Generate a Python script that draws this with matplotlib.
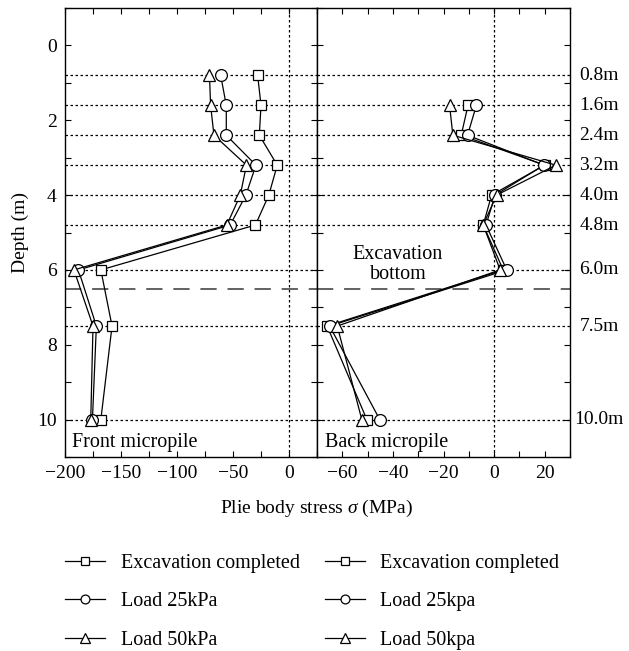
import matplotlib
matplotlib.use("Agg")
import matplotlib.pyplot as plt
from matplotlib.ticker import MultipleLocator
import matplotlib.transforms as mtransforms

# ---------------- data ----------------
depth_front = [0.8, 1.6, 2.4, 3.2, 4.0, 4.8, 6.0, 7.5, 10.0]
front_excav = [-28, -25, -26.5, -10.5, -18, -30, -168, -158, -168]
front_25 = [-61, -56, -56, -29.5, -38.5, -52.5, -188, -172, -175.5]
front_50 = [-71, -70, -67, -38, -43.5, -55.5, -192, -175, -177]

depth_back = [1.6, 2.4, 3.2, 4.0, 4.8, 6.0, 7.5, 10.0]
back_excav = [-10.3, -13, 20, -1, -4.3, 3.6, -66, -50.3]
back_25 = [-7, -10.5, 19.7, 0.4, -3.2, 5, -65, -45.2]
back_50 = [-17.6, -16.3, 24.4, 1, -4.3, 2.4, -62, -52.3]

level_depths = [0.8, 1.6, 2.4, 3.2, 4.0, 4.8, 6.0, 7.5, 10.0]
level_labels = ["0.8m", "1.6m", "2.4m", "3.2m", "4.0m", "4.8m", "6.0m", "7.5m", "10.0m"]
excavation_bottom = 6.5

front_labels = ["Excavation completed", "Load 25kPa", "Load 50kPa"]
back_labels = ["Excavation completed", "Load 25kpa", "Load 50kpa"]

# ---------------- style ----------------
plt.rcParams['font.family'] = ['Liberation Serif', 'DejaVu Serif']
plt.rcParams['mathtext.fontset'] = 'custom'
plt.rcParams['mathtext.it'] = 'Liberation Serif:italic'
plt.rcParams['mathtext.rm'] = 'Liberation Serif'
FS = 14
FT = 14.5

fig = plt.figure(figsize=(6.29, 6.51), dpi=100)
W, H = 629, 651
axL = fig.add_axes([65 / W, 1 - 457 / H, 252 / W, 449 / H])
axR = fig.add_axes([317 / W, 1 - 457 / H, 253 / W, 449 / H], sharey=axL)

markers = ['s', 'o', '^']
msizes = [7.5, 8.5, 9]
dot = (0, (2, 2))

def style_axis(ax):
    ax.tick_params(which='both', direction='in', top=True, right=True,
                   length=4, width=0.8, labelsize=FS, pad=6)
    for s in ax.spines.values():
        s.set_linewidth(1.0)

# left panel
for y in level_depths:
    axL.axhline(y, color='black', lw=0.9, ls=dot, zorder=1)
axL.axvline(0, color='black', lw=0.9, ls=dot, zorder=1)
axL.axhline(excavation_bottom, color='#555555', lw=1.3, ls=(0, (9, 6)), zorder=1)
handlesL = []
for vals, m, ms, lab in zip([front_excav, front_25, front_50], markers, msizes, front_labels):
    h, = axL.plot(vals, depth_front, color='black', lw=0.9, marker=m, ms=ms,
                  mfc='white', mec='black', mew=0.9, label=lab, zorder=3)
    handlesL.append(h)
axL.set_xlim(-200, 25)
axL.set_ylim(11, -1)
axL.xaxis.set_major_locator(MultipleLocator(50))
axL.xaxis.set_minor_locator(MultipleLocator(25))
axL.yaxis.set_major_locator(MultipleLocator(2))
axL.yaxis.set_minor_locator(MultipleLocator(1))
style_axis(axL)
axL.set_xticks([-200, -150, -100, -50, 0])
axL.set_xticklabels(['\u2212200', '\u2212150', '\u2212100', '\u221250', '0'])
axL.set_ylabel('Depth (m)', fontsize=FS, labelpad=6)
axL.text(-194, 10.6, 'Front micropile', fontsize=FT, va='center', ha='left')

# right panel
for y in level_depths:
    if y == 6.0:
        axR.plot([-9, 30], [y, y], color='black', lw=0.9, ls=dot, zorder=1)
    else:
        axR.axhline(y, color='black', lw=0.9, ls=dot, zorder=1)
axR.axvline(0, color='black', lw=0.9, ls=dot, zorder=1)
axR.axhline(excavation_bottom, color='#555555', lw=1.3, ls=(0, (9, 6)), zorder=1)
handlesR = []
for vals, m, ms, lab in zip([back_excav, back_25, back_50], markers, msizes, back_labels):
    h, = axR.plot(vals, depth_back, color='black', lw=0.9, marker=m, ms=ms,
                  mfc='white', mec='black', mew=0.9, label=lab, zorder=3)
    handlesR.append(h)
axR.set_xlim(-70, 30)
axR.xaxis.set_major_locator(MultipleLocator(20))
axR.xaxis.set_minor_locator(MultipleLocator(10))
style_axis(axR)
axR.set_xticks([-60, -40, -20, 0, 20])
axR.set_xticklabels(['\u221260', '\u221240', '\u221220', '0', '20'])
axR.tick_params(labelleft=False)
axR.text(-67, 10.6, 'Back micropile', fontsize=FT, va='center', ha='left')
axR.text(-38, 5.85, 'Excavation\nbottom', fontsize=FT, ha='center', va='center',
         linespacing=1.1)

trans = mtransforms.blended_transform_factory(axR.transAxes, axR.transData)
for y, lab in zip(level_depths, level_labels):
    axR.text(1.115, y, lab, transform=trans, ha='center', va='center', fontsize=FS,
             clip_on=False)

fig.text(316 / W, 1 - 508 / H, 'Plie body stress $\\it{\\sigma}$ (MPa)', ha='center',
         va='center', fontsize=FS)

fig.legend(handlesL + handlesR, front_labels + back_labels, ncol=2, frameon=False,
           loc='upper left', bbox_to_anchor=(47 / W, 1 - 536 / H), fontsize=FT,
           handlelength=2.0, handletextpad=0.75, labelspacing=0.95, columnspacing=1.25,
           markerscale=0.75)

fig.savefig('out.png', dpi=100)
